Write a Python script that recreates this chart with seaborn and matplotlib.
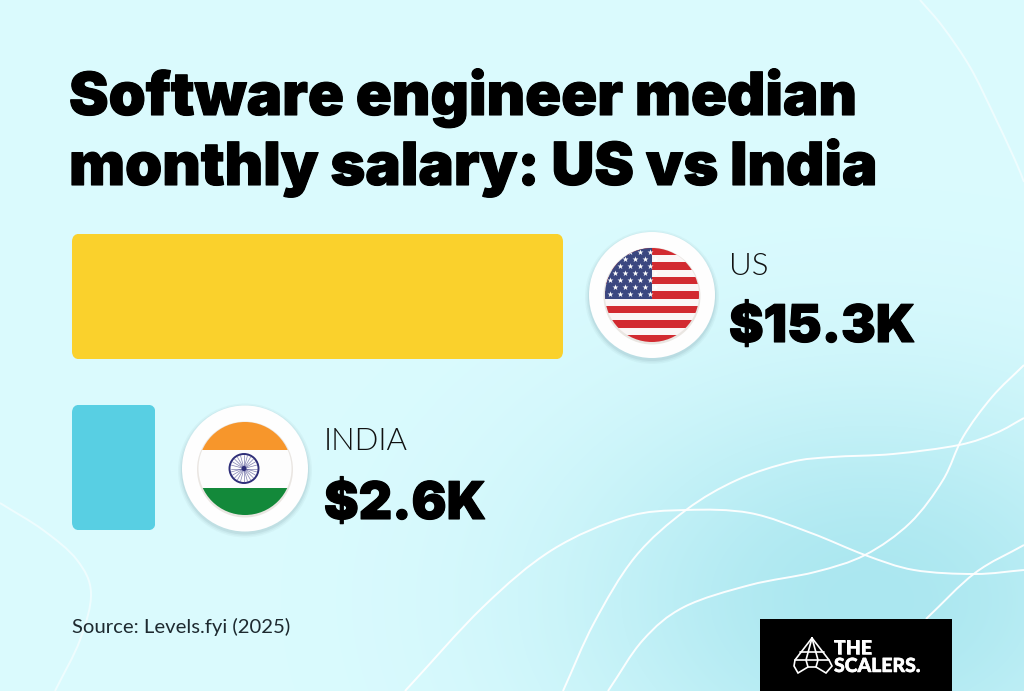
import numpy as np
import pandas as pd
import matplotlib
matplotlib.use("Agg")
import matplotlib.pyplot as plt
import matplotlib.patheffects as pe
from matplotlib.patches import Circle, FancyBboxPatch, Rectangle, PathPatch
from matplotlib.path import Path
import seaborn as sns

countries = ["US", "INDIA"]
salaries = [15.3, 2.6]
value_labels = ["$15.3K", "$2.6K"]
bar_colors = ["#FAD12C", "#58CFE3"]
title_lines = ["Software engineer median", "monthly salary: US vs India"]
source = "Source: Levels.fyi (2025)"

W, H = 1024, 691
sns.set_theme(style="white")
HEAVY = "Inter"
LIGHT = "Lato"
plt.rcParams["font.family"] = [LIGHT, "DejaVu Sans"]
fig = plt.figure(figsize=(W / 100, H / 100), dpi=100)

# background + overlay in pixel coordinates
bg = fig.add_axes([0, 0, 1, 1], zorder=0)
bg.set_xlim(0, W); bg.set_ylim(H, 0); bg.axis("off")
yy, xx = np.mgrid[0:H:2, 0:W:2]
t = np.exp(-(((xx - 870) / 300.0) ** 2 + ((yy - 600) / 210.0) ** 2))[..., None]
c0 = np.array([0xDB, 0xFB, 0xFE]) / 255
c1 = np.array([0xAB, 0xE7, 0xF0]) / 255
bg.imshow(c0 + (c1 - c0) * t, extent=[0, W, H, 0], aspect="auto", zorder=0, interpolation="bilinear")


def smooth(pts):
    p = np.array(pts, float)
    p = np.vstack([2 * p[0] - p[1], p, 2 * p[-1] - p[-2]])
    verts = [tuple(p[1])]
    for i in range(1, len(p) - 2):
        verts += [tuple(p[i] + (p[i + 1] - p[i - 1]) / 6), tuple(p[i + 1] - (p[i + 2] - p[i]) / 6), tuple(p[i + 1])]
    return Path(verts, [Path.MOVETO] + [Path.CURVE4] * (len(verts) - 1))


curves = [
    ([(920, 0), (943, 27), (970, 67), (993, 113), (1015, 160), (1024, 182)], 0.55),
    ([(0, 503), (43, 530), (77, 560), (91, 593), (80, 640), (55, 691)], 0.55),
    ([(405, 691), (483, 607), (552, 550), (626, 517), (686, 510), (750, 513), (811, 533), (865, 555), (914, 570), (975, 574), (1024, 570)], 0.95),
    ([(563, 691), (594, 623), (635, 557), (686, 510), (737, 480), (791, 462), (832, 457), (893, 454), (959, 445), (996, 433), (1024, 418)], 0.95),
    ([(608, 691), (643, 640), (684, 607), (750, 585), (815, 572), (865, 555), (910, 523), (943, 480), (963, 437), (992, 397), (1024, 365)], 0.95),
    ([(926, 619), (975, 573), (1024, 545)], 0.95),
]
for pts, a in curves:
    bg.add_patch(PathPatch(smooth(pts), fc="none", ec="white", lw=1.4, alpha=a, zorder=1))

# bars: 491 px of axis length for the largest value, zero at x = 72 px
px_per_unit = 491 / 15.3
ax_left, ax_right = 40, 600
df = pd.DataFrame({"country": countries, "salary": salaries})
ax = fig.add_axes([ax_left / W, 1 - 553 / H, (ax_right - ax_left) / W, 342 / H], zorder=2)
sns.barplot(data=df, x="salary", y="country", hue="country", palette=bar_colors,
            width=0.735, legend=False, ax=ax, saturation=1, linewidth=0, edgecolor="none")
ax.set_xlim((ax_left - 72) / px_per_unit, (ax_right - 72) / px_per_unit)
ax.set_ylim(1.5, -0.5)
ax.axis("off")
ax.patch.set_alpha(0)

ov = fig.add_axes([0, 0, 1, 1], zorder=3)
ov.set_xlim(0, W); ov.set_ylim(H, 0); ov.axis("off"); ov.patch.set_alpha(0)
fig.canvas.draw()
for bar in ax.patches:
    b = bar.get_window_extent()
    x0, x1 = b.x0, b.x1
    y0, y1 = H - b.y1, H - b.y0
    clip = FancyBboxPatch((x0 + 8, y0 + 8), x1 - x0 - 16, y1 - y0 - 16,
                          boxstyle="round,pad=8,rounding_size=8",
                          transform=ov.transData, fc="none", ec="none")
    ov.add_patch(clip)
    bar.set_clip_path(clip)

# text
heavy = dict(family=[HEAVY, "DejaVu Sans"], fontweight=900, color="black", va="baseline",
             path_effects=[pe.withStroke(linewidth=0.8, foreground="black")])
ov.text(69, 115, title_lines[0], fontsize=42.8, **heavy)
ov.text(69, 185, title_lines[1], fontsize=42.8, **heavy)
ov.text(729, 275, countries[0], fontsize=22.5, fontweight=300, color="#111111", va="baseline")
ov.text(729, 342, value_labels[0], fontsize=37.4, **heavy)
ov.text(324, 450, countries[1], fontsize=22.5, fontweight=300, color="#111111", va="baseline")
ov.text(324, 519, value_labels[1], fontsize=37.4, **heavy)
ov.text(72, 633, source, fontsize=14.6, color="#1E2A30", va="baseline")


def badge(cx, cy, r_flag):
    for r, a in [(67, .04), (65.5, .05), (64, .07)]:
        ov.add_patch(Circle((cx, cy + 2), r, fc="#305060", ec="none", alpha=a, zorder=4))
    ov.add_patch(Circle((cx, cy), 63, fc="#FEFEFE", ec="none", zorder=5))
    ov.add_patch(Circle((cx, cy + 1), r_flag + 1.5, fc="#B0A090", ec="none", alpha=.25, zorder=5))
    clip = Circle((cx, cy), r_flag, transform=ov.transData, fc="none", ec="none")
    ov.add_patch(clip)
    return clip


# US flag
cx, cy = 652, 295
clip = badge(cx, cy, 47)
top = cy - 47; sh = 94 / 13
for i in range(13):
    c = "#D22A30" if i % 2 == 0 else "#FBF6F6"
    r = ov.add_patch(Rectangle((cx - 48, top + i * sh), 96, sh, fc=c, ec="none", zorder=6))
    r.set_clip_path(clip)
r = ov.add_patch(Rectangle((cx - 48, top), 48, sh * 7, fc="#3B4780", ec="none", zorder=7))
r.set_clip_path(clip)
sx, sy = [], []
for row in range(7):
    off = 0 if row % 2 == 0 else 5
    for k in range(5):
        sx.append(cx - 42 + off + k * 10)
        sy.append(top + 4 + row * 7)
s = ov.scatter(sx, sy, marker="*", s=20, c="white", linewidths=0, zorder=8)
s.set_clip_path(clip)

# India flag
cx, cy = 245, 468.5
clip = badge(cx, cy, 46.5)
for y0, h, c in [(422, 27.5, "#F7962B"), (449.5, 38.5, "#FDFDFD"), (488, 27.5, "#13893A")]:
    r = ov.add_patch(Rectangle((cx - 47, y0), 94, h, fc=c, ec="none", zorder=6))
    r.set_clip_path(clip)
ov.add_patch(Circle((cx - 1, cy), 14.5, fc="none", ec="#2E2E78", lw=1.4, zorder=7))
for a in np.arange(0, 360, 15):
    ov.plot([cx - 1, cx - 1 + 13.5 * np.cos(np.radians(a))], [cy, cy + 13.5 * np.sin(np.radians(a))],
            color="#4A4A90", lw=0.5, alpha=.7, zorder=7)
ov.add_patch(Circle((cx - 1, cy), 2.5, fc="#2E2E78", ec="none", zorder=8))

# logo
ov.add_patch(Rectangle((760, 619), 192, 72, fc="black", ec="none", zorder=5))
logo = dict(family=["Lato", "DejaVu Sans"], fontweight=900, color="white",
            va="baseline", zorder=6, fontsize=14,
            path_effects=[pe.withStroke(linewidth=0.4, foreground="white")])
ov.text(834, 654, "THE", **logo)
ov.text(834, 672, "SCALERS.", **logo)
gem = [[(812, 638), (829, 660), (832, 666), (826, 673), (816, 667), (808, 667), (798, 673), (794, 666), (795, 660), (812, 638)],
       [(800, 652), (824, 652)], [(795, 660), (829, 660)],
       [(812, 638), (806, 660), (808, 667)], [(812, 638), (818, 660), (816, 667)]]
for seg in gem:
    xs, ys = zip(*seg)
    ov.plot(xs, ys, color="white", lw=1.2, zorder=6, solid_joinstyle="miter")

ov.set_xlim(0, W); ov.set_ylim(H, 0)
fig.savefig("out.png", dpi=100)
